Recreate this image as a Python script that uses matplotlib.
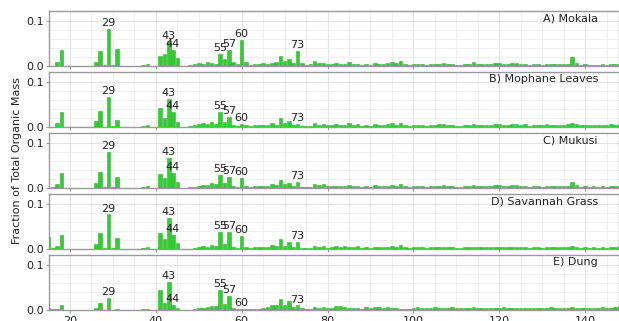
import matplotlib
matplotlib.use("Agg")
import matplotlib.pyplot as plt
from matplotlib.ticker import MultipleLocator

mz = list(range(15, 149))

mokala = [
    0.000, 0.001, 0.009, 0.035, 0.000, 0.000, 0.000, 0.000, 0.000, 0.001,  # 15-24
    0.001, 0.009, 0.033, 0.002, 0.082, 0.002, 0.038, 0.000, 0.000, 0.000,  # 25-34
    0.000, 0.000, 0.003, 0.005, 0.000, 0.000, 0.022, 0.026, 0.054, 0.035,  # 35-44
    0.017, 0.000, 0.001, 0.002, 0.005, 0.006, 0.005, 0.009, 0.006, 0.004,  # 45-54
    0.026, 0.015, 0.035, 0.008, 0.004, 0.058, 0.009, 0.003, 0.005, 0.005,  # 55-64
    0.006, 0.005, 0.007, 0.009, 0.022, 0.012, 0.015, 0.006, 0.033, 0.006,  # 65-74
    0.003, 0.004, 0.010, 0.007, 0.006, 0.004, 0.005, 0.006, 0.005, 0.005,  # 75-84
    0.009, 0.004, 0.004, 0.002, 0.005, 0.002, 0.007, 0.004, 0.004, 0.006,  # 85-94
    0.008, 0.006, 0.010, 0.004, 0.002, 0.004, 0.005, 0.005, 0.002, 0.005,  # 95-104
    0.005, 0.005, 0.006, 0.004, 0.005, 0.003, 0.003, 0.004, 0.004, 0.008,  # 105-114
    0.004, 0.004, 0.004, 0.004, 0.006, 0.006, 0.005, 0.004, 0.006, 0.006,  # 115-124
    0.004, 0.005, 0.003, 0.005, 0.004, 0.003, 0.005, 0.004, 0.004, 0.004,  # 125-134
    0.004, 0.005, 0.019, 0.007, 0.003, 0.004, 0.003, 0.003, 0.003, 0.004,  # 135-144
    0.003, 0.005, 0.004, 0.005,                                            # 145-148
]

mophane = [
    0.000, 0.001, 0.008, 0.033, 0.000, 0.000, 0.000, 0.000, 0.000, 0.001,
    0.001, 0.013, 0.035, 0.001, 0.066, 0.002, 0.015, 0.000, 0.000, 0.000,
    0.000, 0.000, 0.003, 0.005, 0.000, 0.000, 0.042, 0.019, 0.062, 0.033,
    0.010, 0.000, 0.001, 0.002, 0.004, 0.006, 0.008, 0.006, 0.012, 0.006,
    0.033, 0.011, 0.022, 0.004, 0.002, 0.006, 0.004, 0.003, 0.004, 0.004,
    0.005, 0.004, 0.009, 0.005, 0.020, 0.008, 0.014, 0.005, 0.006, 0.003,
    0.002, 0.003, 0.009, 0.005, 0.007, 0.004, 0.004, 0.006, 0.004, 0.005,
    0.008, 0.004, 0.006, 0.003, 0.004, 0.003, 0.006, 0.005, 0.005, 0.006,
    0.008, 0.004, 0.009, 0.005, 0.003, 0.005, 0.005, 0.005, 0.003, 0.005,
    0.005, 0.006, 0.006, 0.004, 0.005, 0.003, 0.003, 0.004, 0.004, 0.006,
    0.004, 0.004, 0.005, 0.005, 0.007, 0.006, 0.005, 0.004, 0.006, 0.006,
    0.004, 0.006, 0.003, 0.005, 0.005, 0.004, 0.006, 0.005, 0.005, 0.004,
    0.005, 0.006, 0.008, 0.006, 0.004, 0.005, 0.004, 0.005, 0.004, 0.005,
    0.004, 0.006, 0.005, 0.006,
]

mukusi = [
    0.000, 0.002, 0.008, 0.034, 0.000, 0.000, 0.000, 0.000, 0.000, 0.001,
    0.001, 0.012, 0.036, 0.002, 0.080, 0.002, 0.024, 0.000, 0.000, 0.000,
    0.000, 0.000, 0.003, 0.005, 0.000, 0.000, 0.030, 0.022, 0.066, 0.033,
    0.014, 0.000, 0.001, 0.002, 0.003, 0.004, 0.007, 0.006, 0.012, 0.008,
    0.029, 0.012, 0.025, 0.005, 0.003, 0.023, 0.005, 0.003, 0.004, 0.004,
    0.004, 0.005, 0.008, 0.007, 0.017, 0.008, 0.010, 0.005, 0.014, 0.003,
    0.003, 0.003, 0.008, 0.006, 0.008, 0.004, 0.004, 0.005, 0.005, 0.005,
    0.007, 0.004, 0.004, 0.002, 0.005, 0.003, 0.006, 0.004, 0.004, 0.005,
    0.007, 0.004, 0.008, 0.004, 0.003, 0.005, 0.005, 0.005, 0.002, 0.005,
    0.005, 0.005, 0.006, 0.004, 0.005, 0.003, 0.003, 0.004, 0.004, 0.006,
    0.004, 0.004, 0.004, 0.004, 0.006, 0.006, 0.005, 0.004, 0.006, 0.006,
    0.004, 0.005, 0.003, 0.005, 0.004, 0.003, 0.005, 0.004, 0.004, 0.004,
    0.004, 0.005, 0.013, 0.006, 0.003, 0.004, 0.003, 0.004, 0.003, 0.004,
    0.003, 0.005, 0.004, 0.005,
]

savannah = [
    0.027, 0.002, 0.007, 0.030, 0.000, 0.000, 0.000, 0.000, 0.000, 0.001,
    0.001, 0.011, 0.036, 0.002, 0.076, 0.002, 0.025, 0.000, 0.000, 0.000,
    0.000, 0.000, 0.003, 0.005, 0.000, 0.000, 0.036, 0.021, 0.068, 0.030,
    0.014, 0.000, 0.001, 0.001, 0.002, 0.004, 0.006, 0.005, 0.009, 0.007,
    0.038, 0.012, 0.038, 0.004, 0.003, 0.028, 0.005, 0.003, 0.004, 0.004,
    0.004, 0.005, 0.008, 0.006, 0.021, 0.007, 0.016, 0.004, 0.016, 0.003,
    0.003, 0.003, 0.007, 0.005, 0.006, 0.003, 0.004, 0.006, 0.005, 0.007,
    0.005, 0.004, 0.007, 0.002, 0.004, 0.003, 0.005, 0.004, 0.004, 0.005,
    0.007, 0.004, 0.008, 0.004, 0.002, 0.004, 0.005, 0.004, 0.002, 0.005,
    0.005, 0.005, 0.005, 0.004, 0.004, 0.003, 0.003, 0.004, 0.004, 0.005,
    0.004, 0.004, 0.004, 0.004, 0.005, 0.005, 0.005, 0.004, 0.005, 0.005,
    0.004, 0.005, 0.003, 0.005, 0.004, 0.003, 0.005, 0.004, 0.004, 0.004,
    0.004, 0.005, 0.006, 0.005, 0.003, 0.004, 0.003, 0.004, 0.003, 0.004,
    0.003, 0.005, 0.004, 0.006,
]

dung = [
    0.004, 0.002, 0.003, 0.011, 0.000, 0.000, 0.000, 0.000, 0.000, 0.001,
    0.001, 0.004, 0.016, 0.001, 0.027, 0.001, 0.003, 0.000, 0.000, 0.000,
    0.000, 0.000, 0.002, 0.003, 0.000, 0.000, 0.044, 0.015, 0.061, 0.012,
    0.004, 0.000, 0.001, 0.000, 0.002, 0.005, 0.004, 0.007, 0.008, 0.009,
    0.044, 0.013, 0.031, 0.005, 0.003, 0.003, 0.003, 0.002, 0.003, 0.003,
    0.004, 0.007, 0.010, 0.011, 0.025, 0.012, 0.019, 0.006, 0.010, 0.004,
    0.003, 0.003, 0.007, 0.005, 0.006, 0.004, 0.005, 0.009, 0.008, 0.006,
    0.005, 0.004, 0.004, 0.003, 0.006, 0.005, 0.006, 0.007, 0.005, 0.006,
    0.005, 0.004, 0.003, 0.003, 0.002, 0.005, 0.006, 0.005, 0.004, 0.005,
    0.007, 0.005, 0.005, 0.004, 0.006, 0.005, 0.004, 0.005, 0.004, 0.006,
    0.004, 0.005, 0.004, 0.005, 0.004, 0.005, 0.006, 0.005, 0.004, 0.005,
    0.004, 0.005, 0.004, 0.005, 0.004, 0.005, 0.004, 0.006, 0.005, 0.005,
    0.004, 0.005, 0.006, 0.005, 0.004, 0.004, 0.005, 0.004, 0.005, 0.006,
    0.004, 0.005, 0.006, 0.008,
]

panel_titles = ["A) Mokala", "B) Mophane Leaves", "C) Mukusi",
                "D) Savannah Grass", "E) Dung"]
series = [mokala, mophane, mukusi, savannah, dung]
peak_labels = [29, 43, 44, 55, 57, 60, 73]
x_ticks = [20, 40, 60, 80, 100, 120, 140]

fig = plt.figure(figsize=(6.19, 3.21), dpi=100)
left, right = 49 / 619, 1.0
top_px, h_px, gap_px = 11, 55, 6
for i, (title, vals) in enumerate(zip(panel_titles, series)):
    y0 = 1 - (top_px + i * (h_px + gap_px) + h_px) / 321
    ax = fig.add_axes([left, y0, right - left, h_px / 321])
    ax.bar(mz, vals, width=0.82, color="#33cc33", edgecolor="#2ab42a",
           linewidth=0.4, zorder=3)
    ax.set_xlim(15.1, 147.9)
    ax.set_ylim(0, 0.121)
    ax.set_yticks([0.0, 0.1])
    ax.set_yticklabels(["0.0", "0.1"])
    ax.yaxis.set_minor_locator(MultipleLocator(0.02))
    ax.set_xticks(x_ticks)
    ax.xaxis.set_minor_locator(MultipleLocator(5))
    ax.grid(which="major", color="#e3e3e3", linewidth=0.8, zorder=0)
    ax.grid(which="minor", color="#ececec", linewidth=0.6, zorder=0)
    ax.set_axisbelow(True)
    for s in ax.spines.values():
        s.set_color("#9a9a9a")
        s.set_linewidth(1.0)
    ax.tick_params(axis="both", which="major", labelsize=8, length=2.5,
                   color="#9a9a9a", pad=1.5, labelcolor="#222222")
    ax.tick_params(axis="both", which="minor", length=0)
    if i < 4:
        ax.tick_params(axis="x", labelbottom=False)
    for p in peak_labels:
        v = vals[mz.index(p)]
        ax.text(p, v + 0.002, str(p), ha="center", va="bottom", fontsize=8,
                color="#222222", zorder=4)
    ax.text(0.963, 0.87, title, transform=ax.transAxes, ha="right",
            va="center", fontsize=8, color="#222222")

fig.text(0.027, 0.5, "Fraction of Total Organic Mass", rotation=90,
         ha="center", va="center", fontsize=8, color="#222222")

fig.savefig("out.png", dpi=100)
